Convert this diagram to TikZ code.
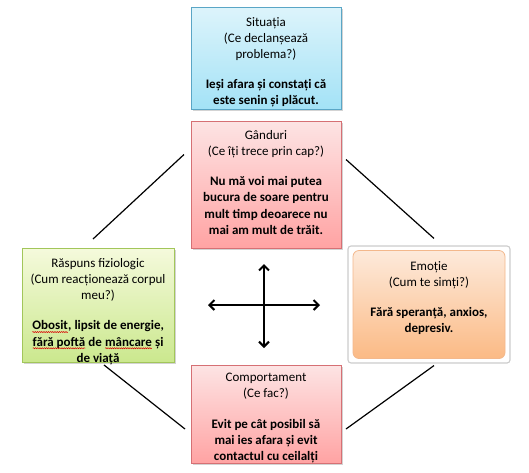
\documentclass[tikz,border=0pt]{standalone}
\usepackage{fontspec}
\setmainfont{Carlito}
\usetikzlibrary{arrows.meta,shadows,calc,decorations.pathmorphing}
\definecolor{sitTop}{HTML}{DDF4FB}
\definecolor{sitBot}{HTML}{A3E2F6}
\definecolor{sitLine}{HTML}{5AA6C6}
\definecolor{ganTop}{HTML}{FDE4E4}
\definecolor{ganBot}{HTML}{FFA3A3}
\definecolor{ganLine}{HTML}{D67074}
\definecolor{rasTop}{HTML}{F5FADC}
\definecolor{rasBot}{HTML}{CBE88E}
\definecolor{rasLine}{HTML}{A2C65A}
\definecolor{emoTop}{HTML}{FDEADB}
\definecolor{emoBot}{HTML}{FBBA85}
\definecolor{emoLine}{HTML}{F3B88C}
\newcommand{\squigword}[1]{\tikz[baseline=(sq.base)]{\node[inner sep=0pt,outer sep=0pt](sq){#1};\draw[red!85!black, line width=0.5pt, decorate, decoration={snake, amplitude=0.55pt, segment length=2.2pt}] ([yshift=-2.2pt]sq.base west) -- ([yshift=-2.2pt]sq.base east);}}
\tikzset{
  boxbase/.style={draw, line width=0.8pt, inner sep=0pt, outer sep=0pt,
    drop shadow={opacity=0.35, shadow xshift=1.5pt, shadow yshift=-1.8pt}},
  sitbox/.style={boxbase, draw=sitLine, top color=sitTop, bottom color=sitBot},
  ganbox/.style={boxbase, draw=ganLine, top color=ganTop, bottom color=ganBot},
  rasbox/.style={boxbase, draw=rasLine, top color=rasTop, bottom color=rasBot},
  emobox/.style={draw=emoLine, line width=0.8pt, rounded corners=6pt, inner sep=0pt,
    top color=emoTop, bottom color=emoBot},
  emoframe/.style={draw=black!20, line width=1.1pt, fill=white, rounded corners=3pt, inner sep=0pt},
  txt/.style={align=center, inner sep=0pt, font=\fontsize{13}{16.2}\selectfont},
  link/.style={line width=1.2pt, black},
  dbl/.style={line width=2pt, {Straight Barb[length=5pt,width=10pt,line width=2pt]}-{Straight Barb[length=5pt,width=10pt,line width=2pt]}}
}
\begin{document}
\begin{tikzpicture}[x=1pt,y=-1pt]
\useasboundingbox (0,0) rectangle (529,472);
% boxes
\node[sitbox, minimum width=150pt, minimum height=102pt] (sit) at (266,58) {};
\node[ganbox, minimum width=150pt, minimum height=127pt] (gan) at (266,184.5) {};
\node[rasbox, minimum width=152pt, minimum height=114pt] (ras) at (98,305) {};
\node[emoframe, minimum width=162pt, minimum height=117pt] (emof) at (429,304.5) {};
\node[emobox, minimum width=152pt, minimum height=108pt] (emo) at (429,304.5) {};
\node[ganbox, minimum width=150pt, minimum height=98pt] (com) at (266,414) {};
% texts
\node[txt, anchor=north] (sitt) at ([yshift=-10pt]sit.north) {Situația\\(Ce declanșează\\problema?)\\[14pt]\textbf{Ieși afara și constați că}\\\textbf{este senin și plăcut.}};
\node[txt, anchor=north] (gant) at ([yshift=-9pt]gan.north) {Gânduri\\(Ce îți trece prin cap?)\\[14pt]\textbf{Nu mă voi mai putea}\\\textbf{bucura de soare pentru}\\\textbf{mult timp deoarece nu}\\\textbf{mai am mult de trăit.}};
\node[txt, anchor=north] (rast) at ([yshift=-10pt]ras.north) {Răspuns fiziologic\\(Cum reacționează corpul\\meu?)\\[14pt]\textbf{\squigword{Obosit}, lipsit de energie,}\\\textbf{\squigword{fără poftă} de \squigword{mâncare} și}\\\textbf{de viață}};
\node[txt, anchor=north] (emot) at ([yshift=-11pt]emo.north) {Emoție\\(Cum te simți?)\\[14pt]\textbf{Fără speranță, anxios,}\\\textbf{depresiv.}};
\node[txt, anchor=north] (comt) at ([yshift=-8pt]com.north) {Comportament\\(Ce fac?)\\[14pt]\textbf{Evit pe cât posibil să}\\\textbf{mai ies afara și evit}\\\textbf{contactul cu ceilalți}};
% connectors
\draw[link] ([shift={(-5,-9)}]ras.north) -- ([shift={(-7,-30)}]gan.west);
\draw[link] ([shift={(5,-25)}]gan.east) -- ([shift={(5,-7)}]emof.north);
\draw[link] ([shift={(6,3)}]ras.south) -- ([shift={(-6,15)}]com.west);
\draw[link] ([shift={(5,2)}]emof.south) -- ([shift={(5,15)}]com.east);
% cross arrows
\coordinate (cc) at (264,305);
\draw[dbl] ($(cc)+(-56,0)$) -- ($(cc)+(56,0)$);
\draw[dbl] ($(cc)+(0,-41)$) -- ($(cc)+(0,43)$);
\end{tikzpicture}
\end{document}
